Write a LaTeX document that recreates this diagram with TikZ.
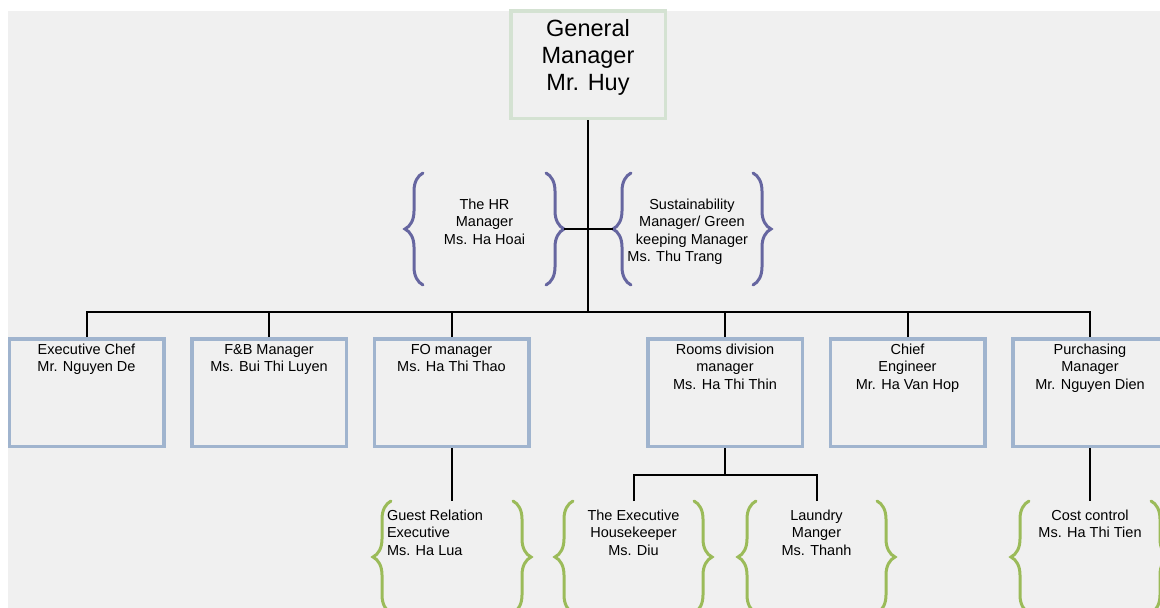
\documentclass[tikz,border=0pt]{standalone}
\usepackage{fontspec}
\setmainfont{Liberation Sans}
\usetikzlibrary{decorations.pathreplacing}
\definecolor{bggray}{RGB}{240,240,240}
\definecolor{boxblue}{RGB}{160,180,206}
\definecolor{gmgreen}{RGB}{212,226,210}
\definecolor{bracepurple}{RGB}{102,102,160}
\definecolor{bracegreen}{RGB}{155,187,89}
\newcommand\tbox[4]{\parbox[t][#2][t]{#1}{\centering\rule{0pt}{#3}#4\par}}
\begin{document}
\begin{tikzpicture}[x=1pt,y=-1pt,
  every node/.style={inner sep=0pt, outer sep=0pt, font=\fontsize{14.5}{17.5}\selectfont, text=black},
  mgr/.style={draw=boxblue, line width=3.5pt, outer sep=1.75pt},
  gmbox/.style={draw=gmgreen, fill=bggray, line width=3.5pt, outer sep=1.75pt, font=\fontsize{23.5}{27}\selectfont},
  conn/.style={draw=black, line width=2pt},
  pbrace/.style={draw=bracepurple, line width=3pt, line cap=round, decorate, decoration={brace, amplitude=18pt}},
  gbrace/.style={draw=bracegreen, line width=3pt, line cap=round, decorate, decoration={brace, amplitude=18pt}}]
\useasboundingbox (0,0) rectangle (1160,608);
\fill[white] (0,0) rectangle (1160,608);
\fill[bggray] (8,11) rectangle (1160,608);

% top
\node[gmbox] (gm) at (588,64.5) {\tbox{154.5pt}{107.5pt}{25.3pt}{General\\Manager\\Mr. Huy}};

% staff beside the GM
\node (hr) at (484.5,229) {\tbox{123pt}{112pt}{36pt}{The HR\\Manager\\Ms. Ha Hoai}};
\node (su) at (692,229) {\tbox{122pt}{112pt}{36pt}{Sustainability\\Manager/ Green\\keeping Manager\\\hspace*{-34pt}Ms. Thu Trang}};

% managers
\node[mgr] (ec) at (86.5,392.5) {\tbox{154.5pt}{107.5pt}{15.6pt}{Executive Chef\\Mr. Nguyen De}};
\node[mgr] (fb) at (269,392.5) {\tbox{154.5pt}{107.5pt}{15.6pt}{F\&B Manager\\Ms. Bui Thi Luyen}};
\node[mgr] (fo) at (451.5,392.5) {\tbox{154.5pt}{107.5pt}{15.6pt}{FO manager\\Ms. Ha Thi Thao}};
\node[mgr] (rd) at (725,392.5) {\tbox{154.5pt}{107.5pt}{15.6pt}{Rooms division\\manager\\Ms. Ha Thi Thin}};
\node[mgr] (ce) at (907.5,392.5) {\tbox{154.5pt}{107.5pt}{15.6pt}{Chief\\Engineer\\Mr. Ha Van Hop}};
\node[mgr] (pm) at (1090,392.5) {\tbox{154.5pt}{107.5pt}{15.6pt}{Purchasing\\Manager\\Mr. Nguyen Dien}};

% third level
\node (gr) at (452,557) {\parbox[t][112pt][t]{122pt}{\raggedright\leftskip=-4pt\relax\rule{0pt}{19pt}Guest Relation\\Executive\\Ms. Ha Lua\par}};
\node (eh) at (633.5,557) {\tbox{121pt}{112pt}{19pt}{The Executive\\Housekeeper\\Ms. Diu}};
\node (lm) at (816.5,557) {\tbox{121pt}{112pt}{19pt}{Laundry\\Manger\\Ms. Thanh}};
\node (cc) at (1090,557) {\tbox{122pt}{112pt}{19pt}{Cost control\\Ms. Ha Thi Tien}};

% braces
\foreach \n in {hr,su} {
  \draw[pbrace] (\n.south west) -- (\n.north west);
  \draw[pbrace] (\n.north east) -- (\n.south east);
}
\foreach \n in {gr,eh,lm,cc} {
  \draw[gbrace] (\n.south west) -- (\n.north west);
  \draw[gbrace] (\n.north east) -- (\n.south east);
}

% connectors
\coordinate (bus) at (588,311.5);
\draw[conn] (gm.south) -- (bus);
\foreach \n in {ec,fb,fo,rd,ce,pm} \draw[conn] (\n.north) |- (bus);
\draw[conn] ([xshift=18pt]hr.east) -- ([xshift=-18pt]su.west);
\draw[conn] (fo.south) -- (fo.south |- gr.north);
\coordinate (rdj) at (725,475);
\draw[conn] (rd.south) -- (rdj);
\draw[conn] (eh.north) |- (rdj);
\draw[conn] (lm.north) |- (rdj);
\draw[conn] (pm.south) -- (pm.south |- cc.north);
\end{tikzpicture}
\end{document}
